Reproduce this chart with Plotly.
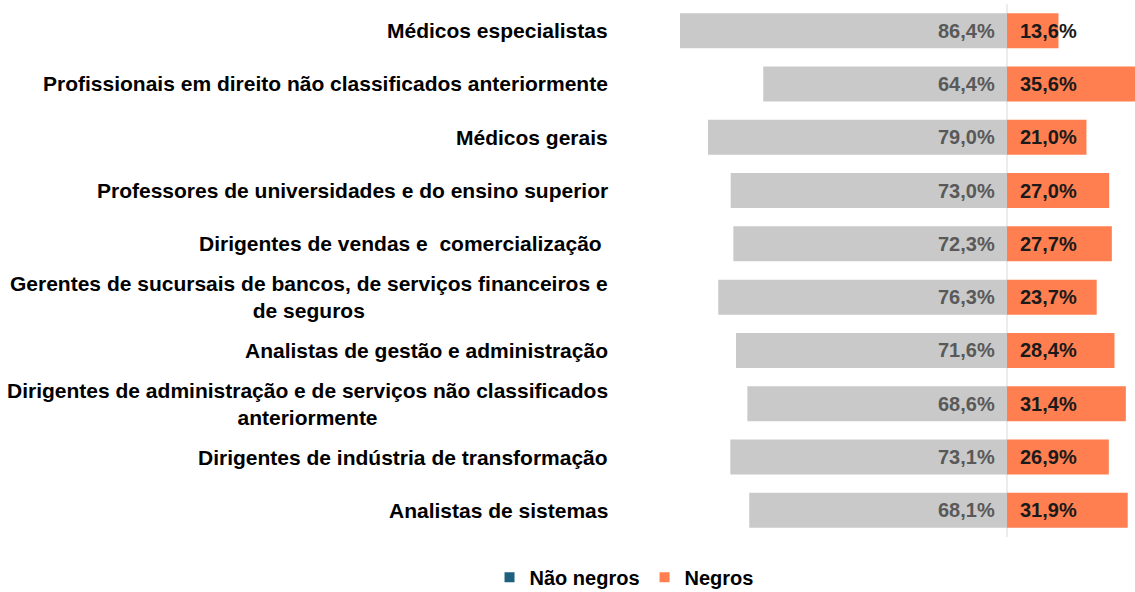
import plotly.graph_objects as go

categories = [
    "Médicos especialistas",
    "Profissionais em direito não classificados anteriormente",
    "Médicos gerais",
    "Professores de universidades e do ensino superior",
    "Dirigentes de vendas e\u00a0 comercialização\u00a0",
    "Gerentes de sucursais de bancos, de serviços financeiros e<br>de seguros",
    "Analistas de gestão e administração",
    "Dirigentes de administração e de serviços não classificados<br>anteriormente",
    "Dirigentes de indústria de transformação",
    "Analistas de sistemas",
]
nao_negros = [86.4, 64.4, 79.0, 73.0, 72.3, 76.3, 71.6, 68.6, 73.1, 68.1]
negros = [13.6, 35.6, 21.0, 27.0, 27.7, 23.7, 28.4, 31.4, 26.9, 31.9]

FONT = "Liberation Sans, Arial, sans-serif"
GRAY = "#C9C9C9"
ORANGE = "#FF7F50"
TEAL = "#1F5F80"


def fmt(v):
    return f"{v:.1f}".replace(".", ",") + "%"


fig = go.Figure()
fig.add_trace(go.Bar(
    y=categories, x=[-v for v in nao_negros], orientation="h",
    marker=dict(color=GRAY, line=dict(width=0)), showlegend=False,
    hoverinfo="skip",
))
fig.add_trace(go.Bar(
    y=categories, x=negros, orientation="h",
    marker=dict(color=ORANGE, line=dict(width=0)), showlegend=False,
    hoverinfo="skip",
))
# legend entries
fig.add_trace(go.Scatter(x=[None], y=[None], mode="markers", name="Não negros",
                         marker=dict(symbol="square", size=10, color=TEAL)))
fig.add_trace(go.Scatter(x=[None], y=[None], mode="markers", name="Negros",
                         marker=dict(symbol="square", size=10, color=ORANGE)))

annotations = []
for cat, a, b in zip(categories, nao_negros, negros):
    annotations.append(dict(
        x=0, y=cat, xref="paper", yref="y", text=cat, showarrow=False,
        xanchor="right", yanchor="middle", align="center", xshift=-10,
        font=dict(family=FONT, size=21, color="#000000", weight=700),
    ))
    annotations.append(dict(
        x=0, y=cat, xref="x", yref="y", text=fmt(a), showarrow=False,
        xanchor="right", yanchor="middle", xshift=-10,
        font=dict(family=FONT, size=20, color="#595959", weight=700),
    ))
    annotations.append(dict(
        x=0, y=cat, xref="x", yref="y", text=fmt(b), showarrow=False,
        xanchor="left", yanchor="middle", xshift=11,
        font=dict(family=FONT, size=20, color="#1A1A1A", weight=700),
    ))

fig.update_layout(
    width=1135, height=592,
    margin=dict(l=620, r=0, t=4, b=55),
    paper_bgcolor="white", plot_bgcolor="white",
    barmode="relative", bargap=0.344,
    annotations=annotations,
    shapes=[dict(type="line", xref="x", yref="paper", x0=0, x1=0, y0=0, y1=1,
                 line=dict(color="#D9D9D9", width=1), layer="below")],
    legend=dict(orientation="h", xref="container", yref="container",
                x=0.5498, y=0.025, xanchor="center", yanchor="middle",
                font=dict(family=FONT, size=20, color="#000000", weight=700),
                itemclick=False, itemdoubleclick=False),
    xaxis=dict(range=[-102.25, 33.82], visible=False, showgrid=False,
               zeroline=False, fixedrange=True),
    yaxis=dict(autorange="reversed", showticklabels=False, showgrid=False,
               zeroline=False, fixedrange=True),
    font=dict(family=FONT),
)

fig.write_html("out.html", config={"displayModeBar": False},
               post_script="document.body.style.margin='0';document.body.style.overflow='hidden';")
